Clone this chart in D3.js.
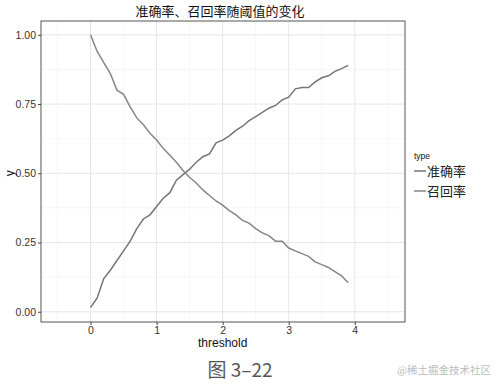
<!DOCTYPE html>
<html>
<head>
<meta charset="utf-8">
<script src="https://cdn.jsdelivr.net/npm/d3@7"></script>
<style>
  body { margin: 0; background: #fff; }
  svg { display: block; }
</style>
</head>
<body>
<svg id="chart" width="504" height="386"></svg>
<script>
// threshold steps 0 .. 3.9
const thresholds = [0, 0.1, 0.2, 0.3, 0.4, 0.5, 0.6, 0.7, 0.8, 0.9,
  1.0, 1.1, 1.2, 1.3, 1.4, 1.5, 1.6, 1.7, 1.8, 1.9,
  2.0, 2.1, 2.2, 2.3, 2.4, 2.5, 2.6, 2.7, 2.8, 2.9,
  3.0, 3.1, 3.2, 3.3, 3.4, 3.5, 3.6, 3.7, 3.8, 3.9]

// 准确率 (rising)
const precision = [0.015, 0.05, 0.12, 0.15, 0.185, 0.22, 0.255, 0.30, 0.335, 0.35,
  0.38, 0.41, 0.43, 0.475, 0.495, 0.515, 0.54, 0.56, 0.57, 0.61,
  0.62, 0.635, 0.655, 0.67, 0.69, 0.705, 0.72, 0.735, 0.745, 0.765,
  0.775, 0.805, 0.81, 0.81, 0.83, 0.845, 0.852, 0.868, 0.878, 0.89]

// 召回率 (falling)
const recall = [1.0, 0.94, 0.90, 0.86, 0.80, 0.785, 0.74, 0.70, 0.675, 0.645,
  0.62, 0.59, 0.565, 0.54, 0.51, 0.485, 0.465, 0.44, 0.42, 0.40,
  0.385, 0.365, 0.35, 0.33, 0.32, 0.30, 0.285, 0.275, 0.255, 0.255,
  0.23, 0.22, 0.21, 0.20, 0.18, 0.17, 0.16, 0.145, 0.13, 0.105]

const seriesNames = ['准确率', '召回率']
const xTicks = [0, 1, 2, 3, 4]
const yTicks = [0, 0.25, 0.5, 0.75, 1]
const xMinor = [-0.5, 0.5, 1.5, 2.5, 3.5, 4.5]
const yMinor = [0.125, 0.375, 0.625, 0.875]

const series = [precision, recall].map((vals, i) => ({
  name: seriesNames[i],
  values: vals.map((v, j) => ({ x: thresholds[j], y: v }))
}))

const margin = { top: 21, right: 99, bottom: 64, left: 41 }
const width = 504, height = 386
const pw = width - margin.left - margin.right
const ph = height - margin.top - margin.bottom

const svg = d3.select('#chart')
const font = 'Liberation Sans, Arial, sans-serif'
const cjk = '"Noto Sans CJK SC", sans-serif'

const x = d3.scaleLinear().domain([-0.75, 4.76]).range([0, pw])
const y = d3.scaleLinear().domain([-0.037, 1.05]).range([ph, 0])

const g = svg.append('g').attr('transform', `translate(${margin.left},${margin.top})`)

// grid
g.selectAll('.xminor').data(xMinor).join('line')
  .attr('x1', d => x(d)).attr('x2', d => x(d)).attr('y1', 0).attr('y2', ph)
  .attr('stroke', '#f0f0f0').attr('stroke-width', 0.6)
g.selectAll('.yminor').data(yMinor).join('line')
  .attr('y1', d => y(d)).attr('y2', d => y(d)).attr('x1', 0).attr('x2', pw)
  .attr('stroke', '#f0f0f0').attr('stroke-width', 0.6)
g.selectAll('.xmajor').data(xTicks).join('line')
  .attr('x1', d => x(d)).attr('x2', d => x(d)).attr('y1', 0).attr('y2', ph)
  .attr('stroke', '#e6e6e6').attr('stroke-width', 1)
g.selectAll('.ymajor').data(yTicks).join('line')
  .attr('y1', d => y(d)).attr('y2', d => y(d)).attr('x1', 0).attr('x2', pw)
  .attr('stroke', '#e6e6e6').attr('stroke-width', 1)

// lines
const line = d3.line().x(d => x(d.x)).y(d => y(d.y))
g.selectAll('.series').data(series).join('path')
  .attr('d', d => line(d.values))
  .attr('fill', 'none')
  .attr('stroke', (d, i) => i === 0 ? '#757575' : '#868686')
  .attr('stroke-width', 1.5)

// panel border
g.append('rect').attr('width', pw).attr('height', ph)
  .attr('fill', 'none').attr('stroke', '#555').attr('stroke-width', 1)

// axes
const xAxis = g.append('g').attr('transform', `translate(0,${ph})`)
  .call(d3.axisBottom(x).tickValues(xTicks).tickFormat(d3.format('d')).tickSize(3).tickPadding(2))
const yAxis = g.append('g')
  .call(d3.axisLeft(y).tickValues(yTicks).tickFormat(d3.format('.2f')).tickSize(3).tickPadding(2))
for (const ax of [xAxis, yAxis]) {
  ax.select('.domain').remove()
  ax.selectAll('line').attr('stroke', '#444')
  ax.selectAll('text').attr('fill', '#333').attr('font-size', 10.5).attr('font-family', font)
}

// axis titles
svg.append('text').attr('x', margin.left + x(2)).attr('y', 347)
  .attr('text-anchor', 'middle').attr('font-size', 12).attr('font-family', font)
  .attr('fill', '#111').text('threshold')
svg.append('text').attr('transform', `translate(14,${margin.top + y(0.5)}) rotate(-90)`)
  .attr('text-anchor', 'middle').attr('font-size', 12).attr('font-family', font)
  .attr('fill', '#111').text('y')

// title
svg.append('text').attr('x', 220).attr('y', 16)
  .attr('text-anchor', 'middle').attr('font-size', 13).attr('font-family', cjk)
  .attr('fill', '#111').text('准确率、召回率随阈值的变化')

// legend
const lg = svg.append('g').attr('transform', 'translate(414,0)')
lg.append('text').attr('x', 0).attr('y', 159).attr('font-size', 8.5)
  .attr('font-family', font).attr('fill', '#111').text('type')
const items = lg.selectAll('.item').data(series).join('g')
  .attr('transform', (d, i) => `translate(0,${171 + i * 20})`)
items.append('line').attr('x1', 0).attr('x2', 12).attr('y1', 0).attr('y2', 0)
  .attr('stroke', (d, i) => i === 0 ? '#757575' : '#868686').attr('stroke-width', 1.5)
items.append('text').attr('x', 13).attr('y', 4.5).attr('font-size', 13)
  .attr('font-family', cjk).attr('fill', '#222').text(d => d.name)

// caption and watermark
svg.append('text').attr('x', 240).attr('y', 377)
  .attr('text-anchor', 'middle').attr('font-size', 19).attr('font-family', cjk)
  .attr('fill', '#555').text('图 3–22')
svg.append('text').attr('x', 397).attr('y', 374)
  .attr('font-size', 10.5).attr('font-family', cjk)
  .attr('fill', '#bbb').text('@稀土掘金技术社区')
</script>
</body>
</html>
